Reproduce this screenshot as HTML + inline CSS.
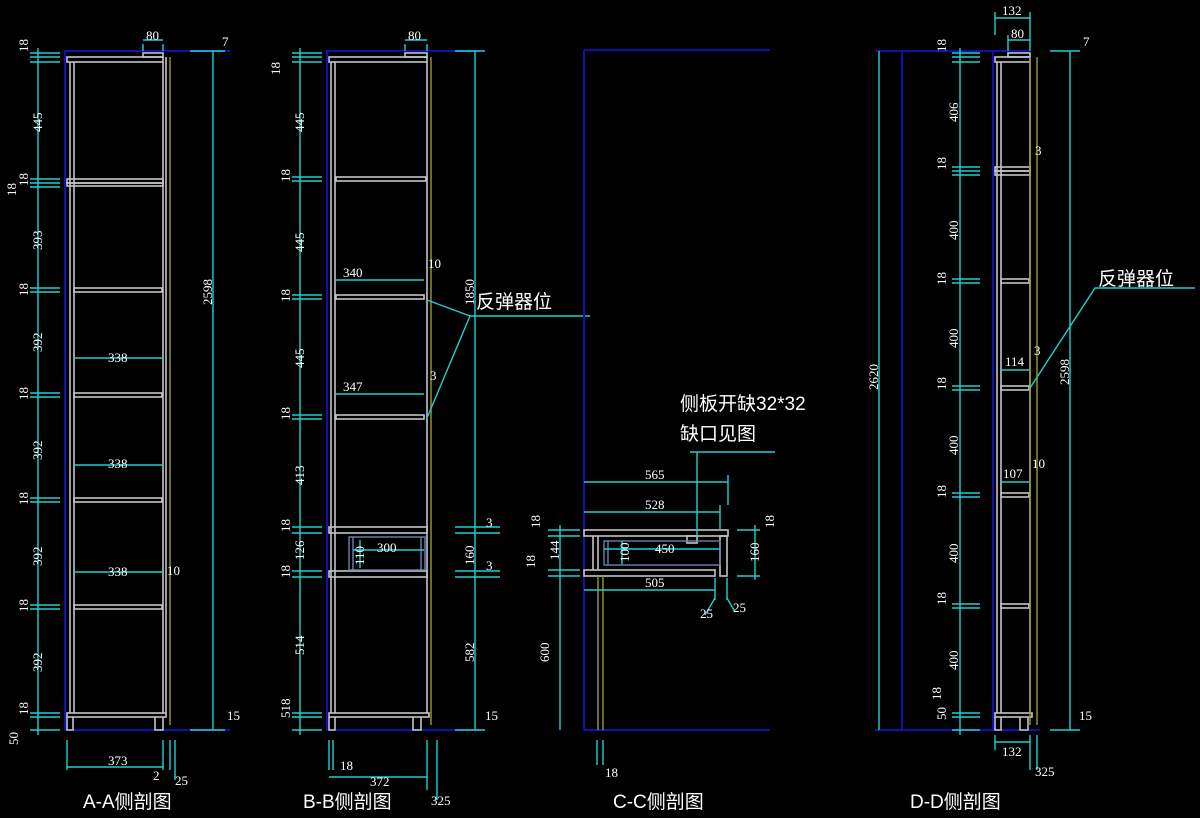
<!DOCTYPE html>
<html><head><meta charset="utf-8"><style>
html,body{margin:0;padding:0;background:#000;width:1200px;height:818px;overflow:hidden}
svg{display:block}
.c{stroke:#1fd0d0;stroke-width:1.4;fill:none}
.b{stroke:#1010b0;stroke-width:2;fill:none}
.g{stroke:#c4c4c4;stroke-width:1.6;fill:none}
.y{stroke:#9a9a30;stroke-width:1.4;fill:none}
.s{stroke:#6a80b0;stroke-width:1.4;fill:none}
text{fill:#fff;font-family:"Liberation Serif",serif;font-size:13px}
.t{font-family:"Liberation Sans","Noto Sans CJK SC",sans-serif;font-size:19px}
</style></head><body>
<svg width="1200" height="818" viewBox="0 0 1200 818" xmlns="http://www.w3.org/2000/svg">
<!-- ===== A-A ===== -->
<path class="b" d="M65 50V730M65 51H230M65 730H230"/>
<g class="g">
<rect x="67" y="57" width="96" height="5"/><rect x="143" y="53" width="20" height="4"/>
<path d="M70 62V713M74 62V713M163 62V713M166 57V713"/>
<rect x="67" y="179" width="96" height="4"/><rect x="67" y="183" width="96" height="3"/>
<rect x="74" y="288" width="88" height="4"/><rect x="74" y="393" width="88" height="4"/>
<rect x="74" y="498" width="88" height="4"/><rect x="74" y="605" width="88" height="4"/>
<rect x="67" y="713" width="99" height="4"/>
<path d="M67 717V730H73V717M155 717V730H163V717"/>
</g>
<path class="y" d="M170 57V725"/>
<g class="c">
<path d="M38 48V735M30 53H60M30 57H60M30 62H60M30 179H60M30 183H60M30 187H60M30 288H60M30 292H60M30 393H60M30 397H60M30 498H60M30 502H60M30 605H60M30 609H60M30 713H60M30 717H60M30 730H60"/>
<path d="M213 51V730M190 51H225M190 730H225M143 44V51M163 44V51M143 40H163M74 358H163M74 465H163M74 572H163M67 740V770M163 740V770M67 767H163M170 740V770M175 740V780"/>
</g>
<text x="146" y="40">80</text><text x="222" y="46">7</text>
<text transform="translate(28,52) rotate(-90)">18</text>
<text transform="translate(42,132) rotate(-90)">445</text>
<text transform="translate(28,186) rotate(-90)">18</text>
<text transform="translate(16,196) rotate(-90)">18</text>
<text transform="translate(42,250) rotate(-90)">393</text>
<text transform="translate(28,296) rotate(-90)">18</text>
<text transform="translate(42,352) rotate(-90)">392</text>
<text transform="translate(28,400) rotate(-90)">18</text>
<text transform="translate(42,460) rotate(-90)">392</text>
<text transform="translate(28,505) rotate(-90)">18</text>
<text transform="translate(42,566) rotate(-90)">392</text>
<text transform="translate(28,612) rotate(-90)">18</text>
<text transform="translate(42,672) rotate(-90)">392</text>
<text transform="translate(28,715) rotate(-90)">18</text>
<text transform="translate(18,745) rotate(-90)">50</text>
<text transform="translate(212,305) rotate(-90)">2598</text>
<text x="108" y="362">338</text><text x="108" y="468">338</text><text x="108" y="576">338</text>
<text x="167" y="575">10</text><text x="227" y="720">15</text>
<text x="108" y="765">373</text><text x="153" y="780">2</text><text x="175" y="785">25</text>
<text class="t" x="83" y="808">A-A侧剖图</text>

<!-- ===== B-B ===== -->
<path class="b" d="M327 50V730M327 51H480M327 730H480"/>
<g class="g">
<rect x="329" y="57" width="98" height="5"/><rect x="405" y="53" width="22" height="4"/>
<path d="M331 62V713M335 62V713M427 62V713"/>
<rect x="336" y="177" width="90" height="4"/><rect x="336" y="295" width="88" height="4"/>
<rect x="336" y="415" width="88" height="4"/>
<rect x="329" y="527" width="98" height="6"/><rect x="329" y="571" width="98" height="6"/>
<rect x="329" y="713" width="100" height="4"/>
<path d="M329 717V730H335V717M413 717V730H421V717"/>
</g>
<rect class="s" x="349" y="537" width="76" height="33"/><path class="s" d="M353 537V570M421 537V570"/>
<path class="y" d="M431 57V725"/>
<g class="c">
<path d="M300 48V735M292 53H322M292 57H322M292 62H322M292 177H322M292 181H322M292 295H322M292 299H322M292 415H322M292 419H322M292 527H322M292 533H322M292 571H322M292 577H322M292 713H322M292 717H322M292 730H322"/>
<path d="M475 51V730M455 51H485M455 527H500M455 533H500M455 571H500M455 577H500M455 730H485M405 44V51M427 44V51M405 40H427M336 280H424M336 394H424M470 316H590M470 316L427 300M470 316L427 418M353 550H424M360 540V568"/>
<path d="M329 740V770M427 740V790M329 777H427M333 740V770M437 740V800"/>
</g>
<text x="408" y="40">80</text>
<text transform="translate(280,75) rotate(-90)">18</text>
<text transform="translate(304,132) rotate(-90)">445</text>
<text transform="translate(290,182) rotate(-90)">18</text>
<text transform="translate(304,252) rotate(-90)">445</text>
<text transform="translate(290,302) rotate(-90)">18</text>
<text transform="translate(304,368) rotate(-90)">445</text>
<text transform="translate(290,420) rotate(-90)">18</text>
<text transform="translate(304,485) rotate(-90)">413</text>
<text transform="translate(290,532) rotate(-90)">18</text>
<text transform="translate(304,560) rotate(-90)">126</text>
<text transform="translate(290,578) rotate(-90)">18</text>
<text transform="translate(304,655) rotate(-90)">514</text>
<text transform="translate(290,718) rotate(-90)">518</text>
<text x="343" y="277">340</text><text x="428" y="268">10</text>
<text x="343" y="391">347</text><text x="430" y="380">3</text>
<text class="t" x="476" y="308">反弹器位</text>
<text transform="translate(474,305) rotate(-90)">1850</text>
<text x="486" y="527">3</text>
<text transform="translate(474,565) rotate(-90)">160</text>
<text x="486" y="570">3</text>
<text transform="translate(474,662) rotate(-90)">582</text>
<text x="485" y="720">15</text>
<text transform="translate(364,565) rotate(-90)">110</text><text x="377" y="552">300</text>
<text x="340" y="770">18</text><text x="370" y="786">372</text><text x="431" y="805">325</text>
<text class="t" x="303" y="808">B-B侧剖图</text>

<!-- ===== C-C ===== -->
<path class="b" d="M584 50V730M584 50H770M584 730H770"/>
<g class="g">
<rect x="584" y="530" width="144" height="6"/><rect x="584" y="570" width="131" height="6"/>
<rect x="720" y="536" width="7" height="40"/><path d="M593 536V570M598 536V570"/>
<rect x="687" y="536" width="10" height="7"/>
</g>
<rect class="s" x="604" y="541" width="116" height="24"/><path class="s" d="M608 541V565"/>
<path class="y" d="M598 576V730M603 576V730"/>
<g class="c">
<path d="M584 482H728M728 475V505M584 512H720M720 505V530M584 590H715M715 578V600M727 578V600M560 525V730M548 530H580M548 536H580M548 570H580M548 576H580M737 530H760M737 576H760M755 525V580M604 549H720M622 541V565M690 452H775M697 452L697 537M597 740V765M603 740V765"/>
<path d="M715 598L705 615M727 598L735 612"/>
</g>
<text x="645" y="479">565</text><text x="645" y="509">528</text>
<text x="655" y="553">450</text><text transform="translate(629,562) rotate(-90)">100</text>
<text x="645" y="587">505</text><text x="700" y="618">25</text><text x="733" y="612">25</text>
<text transform="translate(540,528) rotate(-90)">18</text>
<text transform="translate(559,560) rotate(-90)">144</text>
<text transform="translate(535,568) rotate(-90)">18</text>
<text transform="translate(774,528) rotate(-90)">18</text>
<text transform="translate(759,562) rotate(-90)">160</text>
<text transform="translate(549,662) rotate(-90)">600</text>
<text x="605" y="777">18</text>
<text class="t" x="680" y="410">侧板开缺32*32</text>
<text class="t" x="680" y="440">缺口见图</text>
<text class="t" x="613" y="808">C-C侧剖图</text>

<!-- ===== D-D ===== -->
<path class="b" d="M875 51H1030M902 51V730M993 51V730M875 730H1040"/>
<g class="g">
<rect x="995" y="57" width="35" height="5"/><rect x="1008" y="53" width="22" height="4"/>
<path d="M997 62V713M1001 62V713M1030 62V713"/>
<rect x="995" y="167" width="35" height="4"/><rect x="995" y="171" width="35" height="4"/>
<rect x="1001" y="279" width="28" height="4"/><rect x="1001" y="386" width="28" height="4"/>
<rect x="1001" y="493" width="28" height="4"/><rect x="1001" y="604" width="28" height="4"/>
<rect x="995" y="713" width="37" height="4"/>
<path d="M995 717V730H1001V717M1020 717V730H1028V717"/>
</g>
<path class="y" d="M1030 57V725M1037 57V725"/>
<g class="c">
<path d="M879 51V730M960 48V735M952 53H980M952 57H980M952 62H980M952 167H980M952 171H980M952 175H980M952 279H980M952 283H980M952 386H980M952 390H980M952 493H980M952 497H980M952 604H980M952 608H980M952 713H980M952 717H980M952 730H980"/>
<path d="M1070 51V730M1050 51H1080M1050 730H1080M995 18H1030M995 12V35M1030 12V51M1008 40H1030M1008 35V51M1001 370H1029M1001 482H1029M1030 388L1095 288H1195M995 742H1030M995 735V750M1030 735V770M1037 735V770"/>
</g>
<text x="1002" y="15">132</text><text x="1011" y="38">80</text><text x="1083" y="46">7</text>
<text transform="translate(946,52) rotate(-90)">18</text>
<text transform="translate(958,122) rotate(-90)">406</text>
<text transform="translate(946,170) rotate(-90)">18</text>
<text transform="translate(958,240) rotate(-90)">400</text>
<text transform="translate(946,285) rotate(-90)">18</text>
<text transform="translate(958,348) rotate(-90)">400</text>
<text transform="translate(946,390) rotate(-90)">18</text>
<text transform="translate(958,455) rotate(-90)">400</text>
<text transform="translate(946,498) rotate(-90)">18</text>
<text transform="translate(958,563) rotate(-90)">400</text>
<text transform="translate(946,605) rotate(-90)">18</text>
<text transform="translate(958,670) rotate(-90)">400</text>
<text transform="translate(941,700) rotate(-90)">18</text>
<text transform="translate(946,720) rotate(-90)">50</text>
<text transform="translate(878,390) rotate(-90)">2620</text>
<text transform="translate(1069,385) rotate(-90)">2598</text>
<text x="1035" y="155">3</text><text x="1005" y="366">114</text><text x="1034" y="355">3</text>
<text x="1003" y="478">107</text><text x="1032" y="468">10</text>
<text x="1079" y="720">15</text>
<text class="t" x="1098" y="285">反弹器位</text>
<text x="1002" y="756">132</text><text x="1035" y="776">325</text>
<text class="t" x="910" y="808">D-D侧剖图</text>
</svg>
</body></html>
